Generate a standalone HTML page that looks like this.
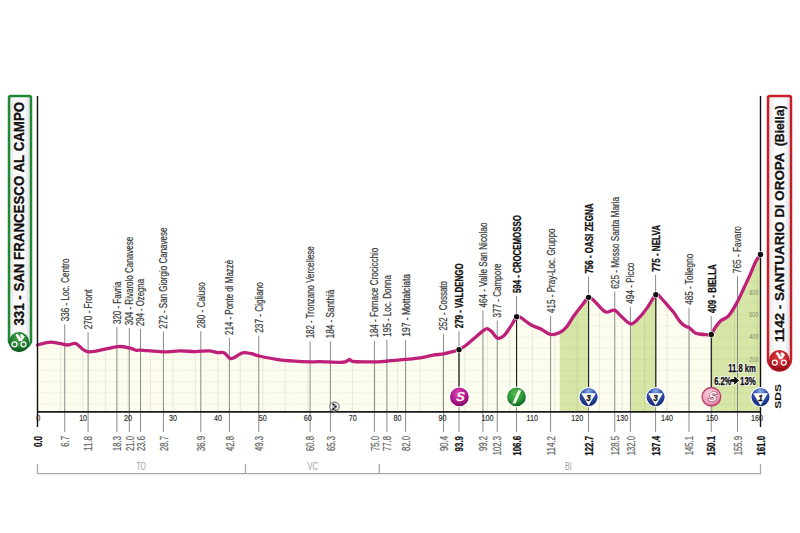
<!DOCTYPE html><html><head><meta charset="utf-8"><style>html,body{margin:0;padding:0;background:#fff;width:800px;height:533px;overflow:hidden}svg{display:block}text{font-family:"Liberation Sans",sans-serif}</style></head><body>
<svg width="800" height="533" viewBox="0 0 800 533">
<defs>
<clipPath id="cf"><path d="M37.50,345.00 C39.79,344.52 46.25,342.10 51.25,342.10 C56.25,342.10 63.38,344.75 67.50,345.00 C71.62,345.25 72.46,342.46 76.00,343.60 C79.54,344.74 81.83,351.35 88.75,351.85 C95.67,352.35 110.62,347.21 117.50,346.60 C124.38,345.99 126.88,347.58 130.00,348.20 C133.12,348.83 134.48,350.03 136.25,350.35 C138.02,350.67 136.14,349.85 140.60,350.10 C145.06,350.35 156.43,351.73 163.00,351.85 C169.57,351.98 174.67,350.89 180.00,350.85 C185.33,350.81 190.21,351.60 195.00,351.60 C199.79,351.60 205.00,350.70 208.75,350.85 C212.50,351.00 214.89,352.16 217.50,352.50 C220.11,352.84 222.11,351.87 224.40,352.90 C226.69,353.93 228.23,358.71 231.25,358.70 C234.27,358.69 239.17,353.68 242.50,352.85 C245.83,352.02 248.54,353.20 251.25,353.70 C253.96,354.20 254.58,354.91 258.75,355.85 C262.92,356.79 270.21,358.46 276.25,359.35 C282.29,360.24 289.38,360.78 295.00,361.20 C300.62,361.63 305.83,361.82 310.00,361.90 C314.17,361.98 314.58,361.64 320.00,361.70 C325.42,361.76 337.60,362.57 342.50,362.25 C347.40,361.93 347.52,359.88 349.40,359.75 C351.27,359.62 349.69,361.14 353.75,361.50 C357.81,361.86 368.12,361.98 373.75,361.90 C379.38,361.82 382.29,361.42 387.50,361.00 C392.71,360.58 399.58,359.93 405.00,359.40 C410.42,358.87 415.32,358.50 420.00,357.80 C424.68,357.10 429.16,355.85 433.10,355.20 C437.04,354.55 440.58,354.45 443.65,353.90 C446.72,353.35 448.94,352.60 451.50,351.90 C454.06,351.20 456.58,350.80 459.00,349.70 C461.42,348.60 463.30,347.33 466.00,345.30 C468.70,343.27 472.37,339.90 475.20,337.50 C478.03,335.10 481.03,332.38 483.00,330.90 C484.97,329.42 485.57,328.50 487.00,328.60 C488.43,328.70 489.85,329.92 491.60,331.50 C493.35,333.08 495.42,337.43 497.50,338.10 C499.58,338.77 501.68,337.80 504.10,335.50 C506.52,333.20 509.92,327.42 512.00,324.30 C514.08,321.18 515.00,317.83 516.60,316.80 C518.20,315.77 519.23,316.78 521.60,318.10 C523.97,319.42 527.52,322.83 530.80,324.70 C534.08,326.57 538.02,327.67 541.30,329.30 C544.58,330.93 547.43,333.95 550.50,334.50 C553.57,335.05 557.08,333.80 559.70,332.60 C562.33,331.40 563.85,330.15 566.25,327.30 C568.65,324.45 571.26,319.44 574.10,315.50 C576.94,311.56 580.88,306.67 583.30,303.65 C585.72,300.62 586.85,297.89 588.60,297.35 C590.35,296.81 591.62,298.47 593.80,300.40 C595.98,302.32 599.57,306.93 601.70,308.90 C603.83,310.87 604.47,311.98 606.60,312.20 C608.73,312.42 612.10,309.55 614.50,310.20 C616.90,310.85 618.27,313.80 621.00,316.10 C623.73,318.40 627.83,323.77 630.90,324.00 C633.97,324.23 636.67,320.18 639.40,317.45 C642.13,314.72 644.56,311.39 647.30,307.60 C650.04,303.81 653.62,296.37 655.85,294.70 C658.08,293.03 658.68,295.75 660.70,297.60 C662.73,299.45 665.85,303.35 668.00,305.80 C670.15,308.25 671.53,309.58 673.60,312.30 C675.67,315.02 678.33,319.72 680.40,322.10 C682.47,324.48 684.57,325.70 686.00,326.60 C687.43,327.50 687.50,326.47 689.00,327.50 C690.50,328.53 693.25,331.72 695.00,332.80 C696.75,333.88 697.63,333.70 699.50,334.00 C701.37,334.30 704.23,334.52 706.20,334.60 C708.17,334.68 709.82,335.65 711.30,334.50 C712.78,333.35 713.48,330.02 715.10,327.70 C716.72,325.38 718.75,322.57 721.00,320.60 C723.25,318.63 725.92,318.93 728.60,315.90 C731.28,312.87 734.55,307.05 737.10,302.40 C739.65,297.75 741.65,292.80 743.90,288.00 C746.15,283.20 748.63,278.02 750.60,273.60 C752.57,269.18 754.05,264.69 755.70,261.50 C757.35,258.31 759.70,255.62 760.50,254.45 L760.5,411.9 L37.5,411.9 Z"/></clipPath>
<radialGradient id="gS" cx="45%" cy="35%" r="65%"><stop offset="0" stop-color="#e050b8"/><stop offset="0.6" stop-color="#b0168a"/><stop offset="1" stop-color="#7a0a60"/></radialGradient>
<radialGradient id="gI" cx="45%" cy="35%" r="65%"><stop offset="0" stop-color="#5cc050"/><stop offset="0.6" stop-color="#2a9438"/><stop offset="1" stop-color="#0f5e1e"/></radialGradient>
<radialGradient id="gB" cx="50%" cy="20%" r="80%"><stop offset="0" stop-color="#8eaee8"/><stop offset="0.35" stop-color="#3a5cb0"/><stop offset="0.8" stop-color="#1c3488"/><stop offset="1" stop-color="#10205e"/></radialGradient>
<radialGradient id="gP" cx="45%" cy="35%" r="65%"><stop offset="0" stop-color="#fbd0dc"/><stop offset="0.75" stop-color="#f0a0bc"/><stop offset="1" stop-color="#c04a78"/></radialGradient>
<radialGradient id="gG" cx="50%" cy="35%" r="65%"><stop offset="0" stop-color="#4caa50"/><stop offset="0.65" stop-color="#1c7a2e"/><stop offset="1" stop-color="#0a4e18"/></radialGradient>
<radialGradient id="gR" cx="50%" cy="35%" r="65%"><stop offset="0" stop-color="#e84040"/><stop offset="0.65" stop-color="#c01c26"/><stop offset="1" stop-color="#7a0c14"/></radialGradient>
<linearGradient id="bxg" x1="0" x2="1" y1="0" y2="0"><stop offset="0" stop-color="#e4e4e4"/><stop offset="0.3" stop-color="#fbfbfb"/><stop offset="0.7" stop-color="#fbfbfb"/><stop offset="1" stop-color="#dcdcdc"/></linearGradient>
</defs>
<path d="M37.50,345.00 C39.79,344.52 46.25,342.10 51.25,342.10 C56.25,342.10 63.38,344.75 67.50,345.00 C71.62,345.25 72.46,342.46 76.00,343.60 C79.54,344.74 81.83,351.35 88.75,351.85 C95.67,352.35 110.62,347.21 117.50,346.60 C124.38,345.99 126.88,347.58 130.00,348.20 C133.12,348.83 134.48,350.03 136.25,350.35 C138.02,350.67 136.14,349.85 140.60,350.10 C145.06,350.35 156.43,351.73 163.00,351.85 C169.57,351.98 174.67,350.89 180.00,350.85 C185.33,350.81 190.21,351.60 195.00,351.60 C199.79,351.60 205.00,350.70 208.75,350.85 C212.50,351.00 214.89,352.16 217.50,352.50 C220.11,352.84 222.11,351.87 224.40,352.90 C226.69,353.93 228.23,358.71 231.25,358.70 C234.27,358.69 239.17,353.68 242.50,352.85 C245.83,352.02 248.54,353.20 251.25,353.70 C253.96,354.20 254.58,354.91 258.75,355.85 C262.92,356.79 270.21,358.46 276.25,359.35 C282.29,360.24 289.38,360.78 295.00,361.20 C300.62,361.63 305.83,361.82 310.00,361.90 C314.17,361.98 314.58,361.64 320.00,361.70 C325.42,361.76 337.60,362.57 342.50,362.25 C347.40,361.93 347.52,359.88 349.40,359.75 C351.27,359.62 349.69,361.14 353.75,361.50 C357.81,361.86 368.12,361.98 373.75,361.90 C379.38,361.82 382.29,361.42 387.50,361.00 C392.71,360.58 399.58,359.93 405.00,359.40 C410.42,358.87 415.32,358.50 420.00,357.80 C424.68,357.10 429.16,355.85 433.10,355.20 C437.04,354.55 440.58,354.45 443.65,353.90 C446.72,353.35 448.94,352.60 451.50,351.90 C454.06,351.20 456.58,350.80 459.00,349.70 C461.42,348.60 463.30,347.33 466.00,345.30 C468.70,343.27 472.37,339.90 475.20,337.50 C478.03,335.10 481.03,332.38 483.00,330.90 C484.97,329.42 485.57,328.50 487.00,328.60 C488.43,328.70 489.85,329.92 491.60,331.50 C493.35,333.08 495.42,337.43 497.50,338.10 C499.58,338.77 501.68,337.80 504.10,335.50 C506.52,333.20 509.92,327.42 512.00,324.30 C514.08,321.18 515.00,317.83 516.60,316.80 C518.20,315.77 519.23,316.78 521.60,318.10 C523.97,319.42 527.52,322.83 530.80,324.70 C534.08,326.57 538.02,327.67 541.30,329.30 C544.58,330.93 547.43,333.95 550.50,334.50 C553.57,335.05 557.08,333.80 559.70,332.60 C562.33,331.40 563.85,330.15 566.25,327.30 C568.65,324.45 571.26,319.44 574.10,315.50 C576.94,311.56 580.88,306.67 583.30,303.65 C585.72,300.62 586.85,297.89 588.60,297.35 C590.35,296.81 591.62,298.47 593.80,300.40 C595.98,302.32 599.57,306.93 601.70,308.90 C603.83,310.87 604.47,311.98 606.60,312.20 C608.73,312.42 612.10,309.55 614.50,310.20 C616.90,310.85 618.27,313.80 621.00,316.10 C623.73,318.40 627.83,323.77 630.90,324.00 C633.97,324.23 636.67,320.18 639.40,317.45 C642.13,314.72 644.56,311.39 647.30,307.60 C650.04,303.81 653.62,296.37 655.85,294.70 C658.08,293.03 658.68,295.75 660.70,297.60 C662.73,299.45 665.85,303.35 668.00,305.80 C670.15,308.25 671.53,309.58 673.60,312.30 C675.67,315.02 678.33,319.72 680.40,322.10 C682.47,324.48 684.57,325.70 686.00,326.60 C687.43,327.50 687.50,326.47 689.00,327.50 C690.50,328.53 693.25,331.72 695.00,332.80 C696.75,333.88 697.63,333.70 699.50,334.00 C701.37,334.30 704.23,334.52 706.20,334.60 C708.17,334.68 709.82,335.65 711.30,334.50 C712.78,333.35 713.48,330.02 715.10,327.70 C716.72,325.38 718.75,322.57 721.00,320.60 C723.25,318.63 725.92,318.93 728.60,315.90 C731.28,312.87 734.55,307.05 737.10,302.40 C739.65,297.75 741.65,292.80 743.90,288.00 C746.15,283.20 748.63,278.02 750.60,273.60 C752.57,269.18 754.05,264.69 755.70,261.50 C757.35,258.31 759.70,255.62 760.50,254.45 L760.5,411.9 L37.5,411.9 Z" fill="#fcfcef"/>
<g clip-path="url(#cf)"><rect x="559.7" y="240" width="28.9" height="171.9" fill="#d6e6a6"/><rect x="630.9" y="240" width="25.0" height="171.9" fill="#d6e6a6"/><rect x="711.3" y="240" width="49.2" height="171.9" fill="#d6e6a6"/>
<line x1="37.5" x2="760.5" y1="403.83" y2="403.83" stroke="#7a7a40" stroke-opacity="0.16" stroke-width="1" stroke-dasharray="1.2,1.8"/>
<line x1="37.5" x2="760.5" y1="392.72" y2="392.72" stroke="#7a7a40" stroke-opacity="0.16" stroke-width="1" stroke-dasharray="1.2,1.8"/>
<line x1="37.5" x2="760.5" y1="381.60" y2="381.60" stroke="#7a7a40" stroke-opacity="0.16" stroke-width="1" stroke-dasharray="1.2,1.8"/>
<line x1="37.5" x2="760.5" y1="370.48" y2="370.48" stroke="#7a7a40" stroke-opacity="0.16" stroke-width="1" stroke-dasharray="1.2,1.8"/>
<line x1="37.5" x2="760.5" y1="359.37" y2="359.37" stroke="#7a7a40" stroke-opacity="0.16" stroke-width="1" stroke-dasharray="1.2,1.8"/>
<line x1="37.5" x2="760.5" y1="348.25" y2="348.25" stroke="#7a7a40" stroke-opacity="0.16" stroke-width="1" stroke-dasharray="1.2,1.8"/>
<line x1="37.5" x2="760.5" y1="337.13" y2="337.13" stroke="#7a7a40" stroke-opacity="0.16" stroke-width="1" stroke-dasharray="1.2,1.8"/>
<line x1="37.5" x2="760.5" y1="326.02" y2="326.02" stroke="#7a7a40" stroke-opacity="0.16" stroke-width="1" stroke-dasharray="1.2,1.8"/>
<line x1="37.5" x2="760.5" y1="314.90" y2="314.90" stroke="#7a7a40" stroke-opacity="0.16" stroke-width="1" stroke-dasharray="1.2,1.8"/>
<line x1="37.5" x2="760.5" y1="303.78" y2="303.78" stroke="#7a7a40" stroke-opacity="0.16" stroke-width="1" stroke-dasharray="1.2,1.8"/>
<line x1="37.5" x2="760.5" y1="292.66" y2="292.66" stroke="#7a7a40" stroke-opacity="0.16" stroke-width="1" stroke-dasharray="1.2,1.8"/>
<line x1="37.5" x2="760.5" y1="281.55" y2="281.55" stroke="#7a7a40" stroke-opacity="0.16" stroke-width="1" stroke-dasharray="1.2,1.8"/>
<line x1="37.5" x2="760.5" y1="270.43" y2="270.43" stroke="#7a7a40" stroke-opacity="0.16" stroke-width="1" stroke-dasharray="1.2,1.8"/>
<line x1="37.5" x2="760.5" y1="259.31" y2="259.31" stroke="#7a7a40" stroke-opacity="0.16" stroke-width="1" stroke-dasharray="1.2,1.8"/>
<line x1="60.66" x2="60.66" y1="240" y2="411.9" stroke="#7a7a40" stroke-opacity="0.14" stroke-width="1"/>
<line x1="83.12" x2="83.12" y1="240" y2="411.9" stroke="#7a7a40" stroke-opacity="0.14" stroke-width="1"/>
<line x1="105.58" x2="105.58" y1="240" y2="411.9" stroke="#7a7a40" stroke-opacity="0.14" stroke-width="1"/>
<line x1="128.04" x2="128.04" y1="240" y2="411.9" stroke="#7a7a40" stroke-opacity="0.14" stroke-width="1"/>
<line x1="150.50" x2="150.50" y1="240" y2="411.9" stroke="#7a7a40" stroke-opacity="0.14" stroke-width="1"/>
<line x1="172.96" x2="172.96" y1="240" y2="411.9" stroke="#7a7a40" stroke-opacity="0.14" stroke-width="1"/>
<line x1="195.42" x2="195.42" y1="240" y2="411.9" stroke="#7a7a40" stroke-opacity="0.14" stroke-width="1"/>
<line x1="217.88" x2="217.88" y1="240" y2="411.9" stroke="#7a7a40" stroke-opacity="0.14" stroke-width="1"/>
<line x1="240.34" x2="240.34" y1="240" y2="411.9" stroke="#7a7a40" stroke-opacity="0.14" stroke-width="1"/>
<line x1="262.80" x2="262.80" y1="240" y2="411.9" stroke="#7a7a40" stroke-opacity="0.14" stroke-width="1"/>
<line x1="285.26" x2="285.26" y1="240" y2="411.9" stroke="#7a7a40" stroke-opacity="0.14" stroke-width="1"/>
<line x1="307.72" x2="307.72" y1="240" y2="411.9" stroke="#7a7a40" stroke-opacity="0.14" stroke-width="1"/>
<line x1="330.18" x2="330.18" y1="240" y2="411.9" stroke="#7a7a40" stroke-opacity="0.14" stroke-width="1"/>
<line x1="352.64" x2="352.64" y1="240" y2="411.9" stroke="#7a7a40" stroke-opacity="0.14" stroke-width="1"/>
<line x1="375.10" x2="375.10" y1="240" y2="411.9" stroke="#7a7a40" stroke-opacity="0.14" stroke-width="1"/>
<line x1="397.56" x2="397.56" y1="240" y2="411.9" stroke="#7a7a40" stroke-opacity="0.14" stroke-width="1"/>
<line x1="420.02" x2="420.02" y1="240" y2="411.9" stroke="#7a7a40" stroke-opacity="0.14" stroke-width="1"/>
<line x1="442.48" x2="442.48" y1="240" y2="411.9" stroke="#7a7a40" stroke-opacity="0.14" stroke-width="1"/>
<line x1="464.94" x2="464.94" y1="240" y2="411.9" stroke="#7a7a40" stroke-opacity="0.14" stroke-width="1"/>
<line x1="487.40" x2="487.40" y1="240" y2="411.9" stroke="#7a7a40" stroke-opacity="0.14" stroke-width="1"/>
<line x1="509.86" x2="509.86" y1="240" y2="411.9" stroke="#7a7a40" stroke-opacity="0.14" stroke-width="1"/>
<line x1="532.32" x2="532.32" y1="240" y2="411.9" stroke="#7a7a40" stroke-opacity="0.14" stroke-width="1"/>
<line x1="554.78" x2="554.78" y1="240" y2="411.9" stroke="#7a7a40" stroke-opacity="0.14" stroke-width="1"/>
<line x1="577.24" x2="577.24" y1="240" y2="411.9" stroke="#7a7a40" stroke-opacity="0.14" stroke-width="1"/>
<line x1="599.70" x2="599.70" y1="240" y2="411.9" stroke="#7a7a40" stroke-opacity="0.14" stroke-width="1"/>
<line x1="622.16" x2="622.16" y1="240" y2="411.9" stroke="#7a7a40" stroke-opacity="0.14" stroke-width="1"/>
<line x1="644.62" x2="644.62" y1="240" y2="411.9" stroke="#7a7a40" stroke-opacity="0.14" stroke-width="1"/>
<line x1="667.08" x2="667.08" y1="240" y2="411.9" stroke="#7a7a40" stroke-opacity="0.14" stroke-width="1"/>
<line x1="689.54" x2="689.54" y1="240" y2="411.9" stroke="#7a7a40" stroke-opacity="0.14" stroke-width="1"/>
<line x1="712.00" x2="712.00" y1="240" y2="411.9" stroke="#7a7a40" stroke-opacity="0.14" stroke-width="1"/>
<line x1="734.46" x2="734.46" y1="240" y2="411.9" stroke="#7a7a40" stroke-opacity="0.14" stroke-width="1"/>
<line x1="756.92" x2="756.92" y1="240" y2="411.9" stroke="#7a7a40" stroke-opacity="0.14" stroke-width="1"/>
</g>
<line x1="64.75" x2="64.75" y1="324.3" y2="432" stroke="#8a8a8a" stroke-width="1"/>
<line x1="88.10" x2="88.10" y1="332.2" y2="432" stroke="#8a8a8a" stroke-width="1"/>
<line x1="116.90" x2="116.90" y1="327.0" y2="432" stroke="#8a8a8a" stroke-width="1"/>
<line x1="129.30" x2="129.30" y1="328.2" y2="432" stroke="#8a8a8a" stroke-width="1"/>
<line x1="140.50" x2="140.50" y1="329.0" y2="432" stroke="#8a8a8a" stroke-width="1"/>
<line x1="163.40" x2="163.40" y1="331.7" y2="432" stroke="#8a8a8a" stroke-width="1"/>
<line x1="200.80" x2="200.80" y1="331.2" y2="432" stroke="#8a8a8a" stroke-width="1"/>
<line x1="229.40" x2="229.40" y1="338.0" y2="432" stroke="#8a8a8a" stroke-width="1"/>
<line x1="258.75" x2="258.75" y1="335.7" y2="432" stroke="#8a8a8a" stroke-width="1"/>
<line x1="310.10" x2="310.10" y1="341.3" y2="432" stroke="#8a8a8a" stroke-width="1"/>
<line x1="330.40" x2="330.40" y1="341.3" y2="432" stroke="#8a8a8a" stroke-width="1"/>
<line x1="374.40" x2="374.40" y1="340.6" y2="432" stroke="#8a8a8a" stroke-width="1"/>
<line x1="386.90" x2="386.90" y1="339.8" y2="432" stroke="#8a8a8a" stroke-width="1"/>
<line x1="405.60" x2="405.60" y1="339.8" y2="432" stroke="#8a8a8a" stroke-width="1"/>
<line x1="443.50" x2="443.50" y1="333.6" y2="432" stroke="#8a8a8a" stroke-width="1"/>
<line x1="459.00" x2="459.00" y1="331.3" y2="432" stroke="#8a8a8a" stroke-width="1"/>
<line x1="482.90" x2="482.90" y1="310.6" y2="432" stroke="#8a8a8a" stroke-width="1"/>
<line x1="497.25" x2="497.25" y1="320.5" y2="432" stroke="#8a8a8a" stroke-width="1"/>
<line x1="516.50" x2="516.50" y1="296.0" y2="432" stroke="#8a8a8a" stroke-width="1"/>
<line x1="550.60" x2="550.60" y1="316.0" y2="432" stroke="#8a8a8a" stroke-width="1"/>
<line x1="588.50" x2="588.50" y1="276.6" y2="432" stroke="#8a8a8a" stroke-width="1"/>
<line x1="614.75" x2="614.75" y1="291.7" y2="432" stroke="#8a8a8a" stroke-width="1"/>
<line x1="630.40" x2="630.40" y1="306.7" y2="432" stroke="#8a8a8a" stroke-width="1"/>
<line x1="655.60" x2="655.60" y1="274.8" y2="432" stroke="#8a8a8a" stroke-width="1"/>
<line x1="689.00" x2="689.00" y1="307.8" y2="432" stroke="#8a8a8a" stroke-width="1"/>
<line x1="711.25" x2="711.25" y1="316.0" y2="432" stroke="#8a8a8a" stroke-width="1"/>
<line x1="737.50" x2="737.50" y1="276.2" y2="432" stroke="#8a8a8a" stroke-width="1"/>
<line x1="459.00" x2="459.00" y1="349.7" y2="392.0" stroke="#1a1a1a" stroke-width="1.1"/>
<line x1="516.60" x2="516.60" y1="316.8" y2="392.0" stroke="#1a1a1a" stroke-width="1.1"/>
<line x1="588.60" x2="588.60" y1="297.4" y2="392.0" stroke="#1a1a1a" stroke-width="1.1"/>
<line x1="655.85" x2="655.85" y1="294.7" y2="392.0" stroke="#1a1a1a" stroke-width="1.1"/>
<line x1="711.30" x2="711.30" y1="334.5" y2="392.0" stroke="#1a1a1a" stroke-width="1.1"/>
<path d="M37.50,345.00 C39.79,344.52 46.25,342.10 51.25,342.10 C56.25,342.10 63.38,344.75 67.50,345.00 C71.62,345.25 72.46,342.46 76.00,343.60 C79.54,344.74 81.83,351.35 88.75,351.85 C95.67,352.35 110.62,347.21 117.50,346.60 C124.38,345.99 126.88,347.58 130.00,348.20 C133.12,348.83 134.48,350.03 136.25,350.35 C138.02,350.67 136.14,349.85 140.60,350.10 C145.06,350.35 156.43,351.73 163.00,351.85 C169.57,351.98 174.67,350.89 180.00,350.85 C185.33,350.81 190.21,351.60 195.00,351.60 C199.79,351.60 205.00,350.70 208.75,350.85 C212.50,351.00 214.89,352.16 217.50,352.50 C220.11,352.84 222.11,351.87 224.40,352.90 C226.69,353.93 228.23,358.71 231.25,358.70 C234.27,358.69 239.17,353.68 242.50,352.85 C245.83,352.02 248.54,353.20 251.25,353.70 C253.96,354.20 254.58,354.91 258.75,355.85 C262.92,356.79 270.21,358.46 276.25,359.35 C282.29,360.24 289.38,360.78 295.00,361.20 C300.62,361.63 305.83,361.82 310.00,361.90 C314.17,361.98 314.58,361.64 320.00,361.70 C325.42,361.76 337.60,362.57 342.50,362.25 C347.40,361.93 347.52,359.88 349.40,359.75 C351.27,359.62 349.69,361.14 353.75,361.50 C357.81,361.86 368.12,361.98 373.75,361.90 C379.38,361.82 382.29,361.42 387.50,361.00 C392.71,360.58 399.58,359.93 405.00,359.40 C410.42,358.87 415.32,358.50 420.00,357.80 C424.68,357.10 429.16,355.85 433.10,355.20 C437.04,354.55 440.58,354.45 443.65,353.90 C446.72,353.35 448.94,352.60 451.50,351.90 C454.06,351.20 456.58,350.80 459.00,349.70 C461.42,348.60 463.30,347.33 466.00,345.30 C468.70,343.27 472.37,339.90 475.20,337.50 C478.03,335.10 481.03,332.38 483.00,330.90 C484.97,329.42 485.57,328.50 487.00,328.60 C488.43,328.70 489.85,329.92 491.60,331.50 C493.35,333.08 495.42,337.43 497.50,338.10 C499.58,338.77 501.68,337.80 504.10,335.50 C506.52,333.20 509.92,327.42 512.00,324.30 C514.08,321.18 515.00,317.83 516.60,316.80 C518.20,315.77 519.23,316.78 521.60,318.10 C523.97,319.42 527.52,322.83 530.80,324.70 C534.08,326.57 538.02,327.67 541.30,329.30 C544.58,330.93 547.43,333.95 550.50,334.50 C553.57,335.05 557.08,333.80 559.70,332.60 C562.33,331.40 563.85,330.15 566.25,327.30 C568.65,324.45 571.26,319.44 574.10,315.50 C576.94,311.56 580.88,306.67 583.30,303.65 C585.72,300.62 586.85,297.89 588.60,297.35 C590.35,296.81 591.62,298.47 593.80,300.40 C595.98,302.32 599.57,306.93 601.70,308.90 C603.83,310.87 604.47,311.98 606.60,312.20 C608.73,312.42 612.10,309.55 614.50,310.20 C616.90,310.85 618.27,313.80 621.00,316.10 C623.73,318.40 627.83,323.77 630.90,324.00 C633.97,324.23 636.67,320.18 639.40,317.45 C642.13,314.72 644.56,311.39 647.30,307.60 C650.04,303.81 653.62,296.37 655.85,294.70 C658.08,293.03 658.68,295.75 660.70,297.60 C662.73,299.45 665.85,303.35 668.00,305.80 C670.15,308.25 671.53,309.58 673.60,312.30 C675.67,315.02 678.33,319.72 680.40,322.10 C682.47,324.48 684.57,325.70 686.00,326.60 C687.43,327.50 687.50,326.47 689.00,327.50 C690.50,328.53 693.25,331.72 695.00,332.80 C696.75,333.88 697.63,333.70 699.50,334.00 C701.37,334.30 704.23,334.52 706.20,334.60 C708.17,334.68 709.82,335.65 711.30,334.50 C712.78,333.35 713.48,330.02 715.10,327.70 C716.72,325.38 718.75,322.57 721.00,320.60 C723.25,318.63 725.92,318.93 728.60,315.90 C731.28,312.87 734.55,307.05 737.10,302.40 C739.65,297.75 741.65,292.80 743.90,288.00 C746.15,283.20 748.63,278.02 750.60,273.60 C752.57,269.18 754.05,264.69 755.70,261.50 C757.35,258.31 759.70,255.62 760.50,254.45" fill="none" stroke="#be2079" stroke-width="3.3" stroke-linejoin="round" stroke-linecap="round"/>
<line x1="37.5" x2="37.5" y1="96" y2="427" stroke="#111" stroke-width="1.4"/>
<line x1="760.5" x2="760.5" y1="96" y2="427" stroke="#111" stroke-width="1.4"/>
<line x1="37" x2="761" y1="411.9" y2="411.9" stroke="#1a1a1a" stroke-width="1.8"/>
<circle cx="459.00" cy="349.70" r="2.7" fill="#111" stroke="#fff" stroke-width="1.2" paint-order="stroke"/>
<circle cx="516.60" cy="316.80" r="2.7" fill="#111" stroke="#fff" stroke-width="1.2" paint-order="stroke"/>
<circle cx="588.60" cy="297.35" r="2.7" fill="#111" stroke="#fff" stroke-width="1.2" paint-order="stroke"/>
<circle cx="655.85" cy="294.70" r="2.7" fill="#111" stroke="#fff" stroke-width="1.2" paint-order="stroke"/>
<circle cx="711.30" cy="334.50" r="2.7" fill="#111" stroke="#fff" stroke-width="1.2" paint-order="stroke"/>
<circle cx="760.50" cy="254.45" r="2.7" fill="#111" stroke="#fff" stroke-width="1.2" paint-order="stroke"/>
<text transform="translate(68.65,321.30) rotate(-90)" font-size="10.3" font-weight="normal" fill="#3a3a3a" stroke="#3a3a3a" stroke-width="0.22" textLength="62.7" lengthAdjust="spacingAndGlyphs">336 - Loc. Centro</text>
<text transform="translate(92.00,329.20) rotate(-90)" font-size="10.3" font-weight="normal" fill="#3a3a3a" stroke="#3a3a3a" stroke-width="0.22" textLength="39.8" lengthAdjust="spacingAndGlyphs">270 - Front</text>
<text transform="translate(120.80,324.00) rotate(-90)" font-size="10.3" font-weight="normal" fill="#3a3a3a" stroke="#3a3a3a" stroke-width="0.22" textLength="42.5" lengthAdjust="spacingAndGlyphs">320 - Favria</text>
<text transform="translate(133.20,325.20) rotate(-90)" font-size="10.3" font-weight="normal" fill="#3a3a3a" stroke="#3a3a3a" stroke-width="0.22" textLength="88.4" lengthAdjust="spacingAndGlyphs">304 - Rivarolo Canavese</text>
<text transform="translate(144.40,326.00) rotate(-90)" font-size="10.3" font-weight="normal" fill="#3a3a3a" stroke="#3a3a3a" stroke-width="0.22" textLength="47.0" lengthAdjust="spacingAndGlyphs">294 - Ozegna</text>
<text transform="translate(167.30,328.70) rotate(-90)" font-size="10.3" font-weight="normal" fill="#3a3a3a" stroke="#3a3a3a" stroke-width="0.22" textLength="101.2" lengthAdjust="spacingAndGlyphs">272 - San Giorgio Canavese</text>
<text transform="translate(204.70,328.20) rotate(-90)" font-size="10.3" font-weight="normal" fill="#3a3a3a" stroke="#3a3a3a" stroke-width="0.22" textLength="46.0" lengthAdjust="spacingAndGlyphs">280 - Caluso</text>
<text transform="translate(233.30,335.00) rotate(-90)" font-size="10.3" font-weight="normal" fill="#3a3a3a" stroke="#3a3a3a" stroke-width="0.22" textLength="75.2" lengthAdjust="spacingAndGlyphs">214 - Ponte di Mazzè</text>
<text transform="translate(262.65,332.70) rotate(-90)" font-size="10.3" font-weight="normal" fill="#3a3a3a" stroke="#3a3a3a" stroke-width="0.22" textLength="50.5" lengthAdjust="spacingAndGlyphs">237 - Cigliano</text>
<text transform="translate(314.00,338.30) rotate(-90)" font-size="10.3" font-weight="normal" fill="#3a3a3a" stroke="#3a3a3a" stroke-width="0.22" textLength="92.0" lengthAdjust="spacingAndGlyphs">182 - Tronzano Vercellese</text>
<text transform="translate(334.30,338.30) rotate(-90)" font-size="10.3" font-weight="normal" fill="#3a3a3a" stroke="#3a3a3a" stroke-width="0.22" textLength="48.6" lengthAdjust="spacingAndGlyphs">184 - Santhià</text>
<text transform="translate(378.30,337.60) rotate(-90)" font-size="10.3" font-weight="normal" fill="#3a3a3a" stroke="#3a3a3a" stroke-width="0.22" textLength="89.9" lengthAdjust="spacingAndGlyphs">184 - Fornace Crocicchio</text>
<text transform="translate(390.80,336.80) rotate(-90)" font-size="10.3" font-weight="normal" fill="#3a3a3a" stroke="#3a3a3a" stroke-width="0.22" textLength="61.8" lengthAdjust="spacingAndGlyphs">195 - Loc. Donna</text>
<text transform="translate(409.50,336.80) rotate(-90)" font-size="10.3" font-weight="normal" fill="#3a3a3a" stroke="#3a3a3a" stroke-width="0.22" textLength="62.9" lengthAdjust="spacingAndGlyphs">197 - Mottalciata</text>
<text transform="translate(447.40,330.60) rotate(-90)" font-size="10.3" font-weight="normal" fill="#3a3a3a" stroke="#3a3a3a" stroke-width="0.22" textLength="49.6" lengthAdjust="spacingAndGlyphs">252 - Cossato</text>
<text transform="translate(463.30,328.30) rotate(-90)" font-size="11" font-weight="bold" fill="#111" stroke="#111" stroke-width="0.3" textLength="64.9" lengthAdjust="spacingAndGlyphs">279 - VALDENGO</text>
<text transform="translate(486.80,307.60) rotate(-90)" font-size="10.3" font-weight="normal" fill="#3a3a3a" stroke="#3a3a3a" stroke-width="0.22" textLength="85.1" lengthAdjust="spacingAndGlyphs">464 - Valle San Nicolao</text>
<text transform="translate(501.15,317.50) rotate(-90)" font-size="10.3" font-weight="normal" fill="#3a3a3a" stroke="#3a3a3a" stroke-width="0.22" textLength="54.1" lengthAdjust="spacingAndGlyphs">377 - Campore</text>
<text transform="translate(520.80,293.00) rotate(-90)" font-size="11" font-weight="bold" fill="#111" stroke="#111" stroke-width="0.3" textLength="77.8" lengthAdjust="spacingAndGlyphs">594 - CROCEMOSSO</text>
<text transform="translate(554.50,313.00) rotate(-90)" font-size="10.3" font-weight="normal" fill="#3a3a3a" stroke="#3a3a3a" stroke-width="0.22" textLength="84.4" lengthAdjust="spacingAndGlyphs">415 - Pray-Loc. Gruppo</text>
<text transform="translate(592.80,273.60) rotate(-90)" font-size="11" font-weight="bold" fill="#111" stroke="#111" stroke-width="0.3" textLength="70.0" lengthAdjust="spacingAndGlyphs">756 - OASI ZEGNA</text>
<text transform="translate(618.65,288.70) rotate(-90)" font-size="10.3" font-weight="normal" fill="#3a3a3a" stroke="#3a3a3a" stroke-width="0.22" textLength="91.9" lengthAdjust="spacingAndGlyphs">625 - Mosso Santa Maria</text>
<text transform="translate(634.30,303.70) rotate(-90)" font-size="10.3" font-weight="normal" fill="#3a3a3a" stroke="#3a3a3a" stroke-width="0.22" textLength="41.0" lengthAdjust="spacingAndGlyphs">494 - Picco</text>
<text transform="translate(659.90,271.80) rotate(-90)" font-size="11" font-weight="bold" fill="#111" stroke="#111" stroke-width="0.3" textLength="46.8" lengthAdjust="spacingAndGlyphs">775 - NELVA</text>
<text transform="translate(692.90,304.80) rotate(-90)" font-size="10.3" font-weight="normal" fill="#3a3a3a" stroke="#3a3a3a" stroke-width="0.22" textLength="51.0" lengthAdjust="spacingAndGlyphs">485 - Tollegno</text>
<text transform="translate(715.55,313.00) rotate(-90)" font-size="11" font-weight="bold" fill="#111" stroke="#111" stroke-width="0.3" textLength="48.7" lengthAdjust="spacingAndGlyphs">409 - BIELLA</text>
<text transform="translate(741.40,273.20) rotate(-90)" font-size="10.3" font-weight="normal" fill="#3a3a3a" stroke="#3a3a3a" stroke-width="0.22" textLength="47.0" lengthAdjust="spacingAndGlyphs">765 - Favaro</text>
<text transform="translate(38.20,421) scale(0.8,1)" font-size="9" fill="#2a2a2a" stroke="#2a2a2a" stroke-width="0.15" text-anchor="middle">0</text>
<text transform="translate(83.12,421) scale(0.8,1)" font-size="9" fill="#2a2a2a" stroke="#2a2a2a" stroke-width="0.15" text-anchor="middle">10</text>
<text transform="translate(128.04,421) scale(0.8,1)" font-size="9" fill="#2a2a2a" stroke="#2a2a2a" stroke-width="0.15" text-anchor="middle">20</text>
<text transform="translate(172.96,421) scale(0.8,1)" font-size="9" fill="#2a2a2a" stroke="#2a2a2a" stroke-width="0.15" text-anchor="middle">30</text>
<text transform="translate(217.88,421) scale(0.8,1)" font-size="9" fill="#2a2a2a" stroke="#2a2a2a" stroke-width="0.15" text-anchor="middle">40</text>
<text transform="translate(262.80,421) scale(0.8,1)" font-size="9" fill="#2a2a2a" stroke="#2a2a2a" stroke-width="0.15" text-anchor="middle">50</text>
<text transform="translate(307.72,421) scale(0.8,1)" font-size="9" fill="#2a2a2a" stroke="#2a2a2a" stroke-width="0.15" text-anchor="middle">60</text>
<text transform="translate(352.64,421) scale(0.8,1)" font-size="9" fill="#2a2a2a" stroke="#2a2a2a" stroke-width="0.15" text-anchor="middle">70</text>
<text transform="translate(397.56,421) scale(0.8,1)" font-size="9" fill="#2a2a2a" stroke="#2a2a2a" stroke-width="0.15" text-anchor="middle">80</text>
<text transform="translate(442.48,421) scale(0.8,1)" font-size="9" fill="#2a2a2a" stroke="#2a2a2a" stroke-width="0.15" text-anchor="middle">90</text>
<text transform="translate(487.40,421) scale(0.8,1)" font-size="9" fill="#2a2a2a" stroke="#2a2a2a" stroke-width="0.15" text-anchor="middle">100</text>
<text transform="translate(532.32,421) scale(0.8,1)" font-size="9" fill="#2a2a2a" stroke="#2a2a2a" stroke-width="0.15" text-anchor="middle">110</text>
<text transform="translate(577.24,421) scale(0.8,1)" font-size="9" fill="#2a2a2a" stroke="#2a2a2a" stroke-width="0.15" text-anchor="middle">120</text>
<text transform="translate(622.16,421) scale(0.8,1)" font-size="9" fill="#2a2a2a" stroke="#2a2a2a" stroke-width="0.15" text-anchor="middle">130</text>
<text transform="translate(667.08,421) scale(0.8,1)" font-size="9" fill="#2a2a2a" stroke="#2a2a2a" stroke-width="0.15" text-anchor="middle">140</text>
<text transform="translate(712.00,421) scale(0.8,1)" font-size="9" fill="#2a2a2a" stroke="#2a2a2a" stroke-width="0.15" text-anchor="middle">150</text>
<text transform="translate(756.92,421) scale(0.8,1)" font-size="9" fill="#2a2a2a" stroke="#2a2a2a" stroke-width="0.15" text-anchor="middle">160</text>
<text transform="translate(41.70,436) rotate(-90)" font-size="11.5" font-weight="bold" fill="#111" stroke="#111" stroke-width="0.25" text-anchor="end" textLength="11.1" lengthAdjust="spacingAndGlyphs">0.0</text>
<text transform="translate(68.95,436) rotate(-90)" font-size="11.5" font-weight="normal" fill="#666" stroke="#666" stroke-width="0.25" text-anchor="end" textLength="10.7" lengthAdjust="spacingAndGlyphs">6.7</text>
<text transform="translate(92.30,436) rotate(-90)" font-size="11.5" font-weight="normal" fill="#666" stroke="#666" stroke-width="0.25" text-anchor="end" textLength="14.9" lengthAdjust="spacingAndGlyphs">11.8</text>
<text transform="translate(121.10,436) rotate(-90)" font-size="11.5" font-weight="normal" fill="#666" stroke="#666" stroke-width="0.25" text-anchor="end" textLength="14.9" lengthAdjust="spacingAndGlyphs">18.3</text>
<text transform="translate(133.50,436) rotate(-90)" font-size="11.5" font-weight="normal" fill="#666" stroke="#666" stroke-width="0.25" text-anchor="end" textLength="14.9" lengthAdjust="spacingAndGlyphs">21.0</text>
<text transform="translate(144.70,436) rotate(-90)" font-size="11.5" font-weight="normal" fill="#666" stroke="#666" stroke-width="0.25" text-anchor="end" textLength="14.9" lengthAdjust="spacingAndGlyphs">23.6</text>
<text transform="translate(167.60,436) rotate(-90)" font-size="11.5" font-weight="normal" fill="#666" stroke="#666" stroke-width="0.25" text-anchor="end" textLength="14.9" lengthAdjust="spacingAndGlyphs">28.7</text>
<text transform="translate(205.00,436) rotate(-90)" font-size="11.5" font-weight="normal" fill="#666" stroke="#666" stroke-width="0.25" text-anchor="end" textLength="14.9" lengthAdjust="spacingAndGlyphs">36.9</text>
<text transform="translate(233.60,436) rotate(-90)" font-size="11.5" font-weight="normal" fill="#666" stroke="#666" stroke-width="0.25" text-anchor="end" textLength="14.9" lengthAdjust="spacingAndGlyphs">42.8</text>
<text transform="translate(262.95,436) rotate(-90)" font-size="11.5" font-weight="normal" fill="#666" stroke="#666" stroke-width="0.25" text-anchor="end" textLength="14.9" lengthAdjust="spacingAndGlyphs">49.3</text>
<text transform="translate(314.30,436) rotate(-90)" font-size="11.5" font-weight="normal" fill="#666" stroke="#666" stroke-width="0.25" text-anchor="end" textLength="14.9" lengthAdjust="spacingAndGlyphs">60.8</text>
<text transform="translate(334.60,436) rotate(-90)" font-size="11.5" font-weight="normal" fill="#666" stroke="#666" stroke-width="0.25" text-anchor="end" textLength="14.9" lengthAdjust="spacingAndGlyphs">65.3</text>
<text transform="translate(378.60,436) rotate(-90)" font-size="11.5" font-weight="normal" fill="#666" stroke="#666" stroke-width="0.25" text-anchor="end" textLength="14.9" lengthAdjust="spacingAndGlyphs">75.0</text>
<text transform="translate(391.10,436) rotate(-90)" font-size="11.5" font-weight="normal" fill="#666" stroke="#666" stroke-width="0.25" text-anchor="end" textLength="14.9" lengthAdjust="spacingAndGlyphs">77.8</text>
<text transform="translate(409.80,436) rotate(-90)" font-size="11.5" font-weight="normal" fill="#666" stroke="#666" stroke-width="0.25" text-anchor="end" textLength="14.9" lengthAdjust="spacingAndGlyphs">82.0</text>
<text transform="translate(447.70,436) rotate(-90)" font-size="11.5" font-weight="normal" fill="#666" stroke="#666" stroke-width="0.25" text-anchor="end" textLength="14.9" lengthAdjust="spacingAndGlyphs">90.4</text>
<text transform="translate(463.20,436) rotate(-90)" font-size="11.5" font-weight="bold" fill="#111" stroke="#111" stroke-width="0.25" text-anchor="end" textLength="15.4" lengthAdjust="spacingAndGlyphs">93.9</text>
<text transform="translate(487.10,436) rotate(-90)" font-size="11.5" font-weight="normal" fill="#666" stroke="#666" stroke-width="0.25" text-anchor="end" textLength="14.9" lengthAdjust="spacingAndGlyphs">99.2</text>
<text transform="translate(501.45,436) rotate(-90)" font-size="11.5" font-weight="normal" fill="#666" stroke="#666" stroke-width="0.25" text-anchor="end" textLength="19.2" lengthAdjust="spacingAndGlyphs">102.3</text>
<text transform="translate(520.70,436) rotate(-90)" font-size="11.5" font-weight="bold" fill="#111" stroke="#111" stroke-width="0.25" text-anchor="end" textLength="19.7" lengthAdjust="spacingAndGlyphs">106.6</text>
<text transform="translate(554.80,436) rotate(-90)" font-size="11.5" font-weight="normal" fill="#666" stroke="#666" stroke-width="0.25" text-anchor="end" textLength="19.2" lengthAdjust="spacingAndGlyphs">114.2</text>
<text transform="translate(592.70,436) rotate(-90)" font-size="11.5" font-weight="bold" fill="#111" stroke="#111" stroke-width="0.25" text-anchor="end" textLength="19.7" lengthAdjust="spacingAndGlyphs">122.7</text>
<text transform="translate(618.95,436) rotate(-90)" font-size="11.5" font-weight="normal" fill="#666" stroke="#666" stroke-width="0.25" text-anchor="end" textLength="19.2" lengthAdjust="spacingAndGlyphs">128.5</text>
<text transform="translate(634.60,436) rotate(-90)" font-size="11.5" font-weight="normal" fill="#666" stroke="#666" stroke-width="0.25" text-anchor="end" textLength="19.2" lengthAdjust="spacingAndGlyphs">132.0</text>
<text transform="translate(659.80,436) rotate(-90)" font-size="11.5" font-weight="bold" fill="#111" stroke="#111" stroke-width="0.25" text-anchor="end" textLength="19.7" lengthAdjust="spacingAndGlyphs">137.4</text>
<text transform="translate(693.20,436) rotate(-90)" font-size="11.5" font-weight="normal" fill="#666" stroke="#666" stroke-width="0.25" text-anchor="end" textLength="19.2" lengthAdjust="spacingAndGlyphs">145.1</text>
<text transform="translate(715.45,436) rotate(-90)" font-size="11.5" font-weight="bold" fill="#111" stroke="#111" stroke-width="0.25" text-anchor="end" textLength="19.7" lengthAdjust="spacingAndGlyphs">150.1</text>
<text transform="translate(741.70,436) rotate(-90)" font-size="11.5" font-weight="normal" fill="#666" stroke="#666" stroke-width="0.25" text-anchor="end" textLength="19.2" lengthAdjust="spacingAndGlyphs">155.9</text>
<text transform="translate(764.70,436) rotate(-90)" font-size="11.5" font-weight="bold" fill="#111" stroke="#111" stroke-width="0.25" text-anchor="end" textLength="19.7" lengthAdjust="spacingAndGlyphs">161.0</text>
<path d="M37.5,464 V473.7 H760.5 V464 M245.5,464 V473.7 M379.3,464 V473.7" fill="none" stroke="#a8a8a8" stroke-width="1.3"/>
<text x="136.5" y="470" font-size="11.5" fill="#a0a0a0" textLength="9.3" lengthAdjust="spacingAndGlyphs">TO</text>
<text x="307.6" y="470" font-size="11.5" fill="#a0a0a0" textLength="10.3" lengthAdjust="spacingAndGlyphs">VC</text>
<text x="565.0" y="470" font-size="11.5" fill="#a0a0a0" textLength="6.9" lengthAdjust="spacingAndGlyphs">BI</text>
<text transform="translate(758.5,361.67) scale(0.85,1)" font-size="6.5" fill="#8a8a70" text-anchor="end">200</text>
<text transform="translate(758.5,339.43) scale(0.85,1)" font-size="6.5" fill="#8a8a70" text-anchor="end">400</text>
<text transform="translate(758.5,317.20) scale(0.85,1)" font-size="6.5" fill="#8a8a70" text-anchor="end">600</text>
<text transform="translate(758.5,294.96) scale(0.85,1)" font-size="6.5" fill="#8a8a70" text-anchor="end">800</text>
<path d="M730.5,379.3 h3.8 v-2.8 l4.6,4 l-4.6,4 v-2.8 h-3.8 z" fill="#111" stroke="#fff" stroke-width="1.6" paint-order="stroke"/>
<text x="755.8" y="372.4" font-size="10.5" font-weight="bold" fill="#111" stroke="#fff" stroke-width="2.2" stroke-linejoin="round" text-anchor="end" textLength="27.5" lengthAdjust="spacingAndGlyphs">11.8 km</text><text x="755.8" y="372.4" font-size="10.5" font-weight="bold" fill="#111" stroke="#111" stroke-width="0.35" text-anchor="end" textLength="27.5" lengthAdjust="spacingAndGlyphs">11.8 km</text>
<text x="714.2" y="384.8" font-size="10.5" font-weight="bold" fill="#111" stroke="#fff" stroke-width="2.2" stroke-linejoin="round" text-anchor="start" textLength="17.0" lengthAdjust="spacingAndGlyphs">6.2%</text><text x="714.2" y="384.8" font-size="10.5" font-weight="bold" fill="#111" stroke="#111" stroke-width="0.35" text-anchor="start" textLength="17.0" lengthAdjust="spacingAndGlyphs">6.2%</text>
<text x="755.8" y="384.8" font-size="10.5" font-weight="bold" fill="#111" stroke="#fff" stroke-width="2.2" stroke-linejoin="round" text-anchor="end" textLength="15.8" lengthAdjust="spacingAndGlyphs">13%</text><text x="755.8" y="384.8" font-size="10.5" font-weight="bold" fill="#111" stroke="#111" stroke-width="0.35" text-anchor="end" textLength="15.8" lengthAdjust="spacingAndGlyphs">13%</text>
<path d="M730.5,379.3 h3.8 v-2.8 l4.6,4 l-4.6,4 v-2.8 h-3.8 z" fill="#111"/>
<circle cx="459.40" cy="396.90" r="9.90" fill="url(#gS)" stroke="#fff" stroke-width="1.1"/>
<text transform="translate(459.6,401.4) skewX(-14)" font-size="13" font-weight="bold" fill="#fff" text-anchor="middle">S</text>
<circle cx="516.50" cy="396.90" r="9.90" fill="url(#gI)" stroke="#fff" stroke-width="1.1"/>
<path d="M518.2,390.2 L521.4,390.2 L515.6,403.6 L512.4,403.6 Z" fill="#eefbe6"/>
<circle cx="588.60" cy="397.10" r="9.60" fill="url(#gB)" stroke="#fff" stroke-width="1.1"/>
<path d="M581.30,393.2 L595.90,393.2 L588.60,405.6 Z" fill="#fff"/>
<text x="588.60" y="401.3" font-size="9.6" font-weight="bold" font-style="italic" fill="#111" stroke="#111" stroke-width="0.3" text-anchor="middle" transform="translate(588.60,0) scale(0.85,1) translate(-588.60,0)">3</text>
<circle cx="655.60" cy="397.10" r="9.60" fill="url(#gB)" stroke="#fff" stroke-width="1.1"/>
<path d="M648.30,393.2 L662.90,393.2 L655.60,405.6 Z" fill="#fff"/>
<text x="655.60" y="401.3" font-size="9.6" font-weight="bold" font-style="italic" fill="#111" stroke="#111" stroke-width="0.3" text-anchor="middle" transform="translate(655.60,0) scale(0.85,1) translate(-655.60,0)">3</text>
<circle cx="760.50" cy="397.10" r="9.60" fill="url(#gB)" stroke="#fff" stroke-width="1.1"/>
<path d="M753.20,393.2 L767.80,393.2 L760.50,405.6 Z" fill="#fff"/>
<text x="760.50" y="401.3" font-size="9.6" font-weight="bold" font-style="italic" fill="#111" stroke="#111" stroke-width="0.3" text-anchor="middle" transform="translate(760.50,0) scale(0.85,1) translate(-760.50,0)">1</text>
<circle cx="711.4" cy="396.8" r="9.3" fill="url(#gP)" stroke="#b8406c" stroke-width="1.3"/>
<text transform="translate(711.6,401.3) skewX(-14)" font-size="13" font-weight="bold" fill="#fff" stroke="#8a2a50" stroke-width="1.1" paint-order="stroke" text-anchor="middle">S</text>
<circle cx="334.5" cy="406.7" r="4.7" fill="#fff" stroke="#555" stroke-width="1"/>
<path d="M332.4,403.4h2.1v2.2h-2.1zM334.5,405.6h2.1v2.2h-2.1zM332.4,407.8h2.1v2.2h-2.1zM334.5,403.4h0.01zM336.6,403.4h0zM334.5,409.9h2.1v0.8h-2.1z" fill="#111"/>
<path d="M334.5,403.4h2.1v2.2h-2.1zM332.4,405.6h2.1v2.2h-2.1zM334.5,407.8h2.1v2.1h-2.1z" fill="#444" opacity="0.35"/>
<text transform="translate(780.6,408.8) rotate(-90)" font-size="8.8" font-weight="bold" fill="#111" textLength="24.7" lengthAdjust="spacingAndGlyphs">SDS</text>
<path d="M9,97.5 Q9,96 11,96 L29,96 Q31,96 31,98 L31,342 A12,12 0 0 1 9,342 Z" fill="url(#bxg)" stroke="#1f8a36" stroke-width="2.5"/>
<circle cx="19.1" cy="342.1" r="10.1" fill="url(#gG)"/>
<g fill="none" stroke="#fff" stroke-width="1.3"><circle cx="14.50" cy="344.30" r="2.5"/><circle cx="23.50" cy="344.30" r="2.5"/></g><path d="M15.30,334.70 l2.2,-1 l3.2,4.2 l2.6,-2.6 l1.6,1.2 l-3.2,4.4 l-2.6,0 z" fill="#fff"/><circle cx="21.70" cy="335.50" r="1.5" fill="#fff"/>
<text transform="translate(24.4,325.6) rotate(-90)" font-size="14" font-weight="bold" fill="#111" stroke="#111" stroke-width="0.3" textLength="223.7" lengthAdjust="spacingAndGlyphs">331 - SAN FRANCESCO AL CAMPO</text>
<path d="M768,97.5 Q768,96 770,96 L789,96 Q791,96 791,98 L791,359 A11.5,11.5 0 0 1 768,359 Z" fill="url(#bxg)" stroke="#c61e2a" stroke-width="2.5"/>
<circle cx="779.4" cy="360.4" r="10.4" fill="url(#gR)"/>
<g fill="none" stroke="#fff" stroke-width="1.3"><circle cx="774.80" cy="362.60" r="2.5"/><circle cx="783.80" cy="362.60" r="2.5"/></g><path d="M775.60,353.00 l2.2,-1 l3.2,4.2 l2.6,-2.6 l1.6,1.2 l-3.2,4.4 l-2.6,0 z" fill="#fff"/><circle cx="782.00" cy="353.80" r="1.5" fill="#fff"/>
<text transform="translate(784.1,342) rotate(-90)" font-size="13" font-weight="bold" fill="#111" stroke="#111" stroke-width="0.3" textLength="189.4" lengthAdjust="spacingAndGlyphs">1142 - SANTUARIO DI OROPA</text>
<text transform="translate(784.1,146.3) rotate(-90)" font-size="13" font-weight="bold" fill="#111" stroke="#111" stroke-width="0.3" textLength="40.9" lengthAdjust="spacingAndGlyphs">(Biella)</text>
</svg></body></html>
